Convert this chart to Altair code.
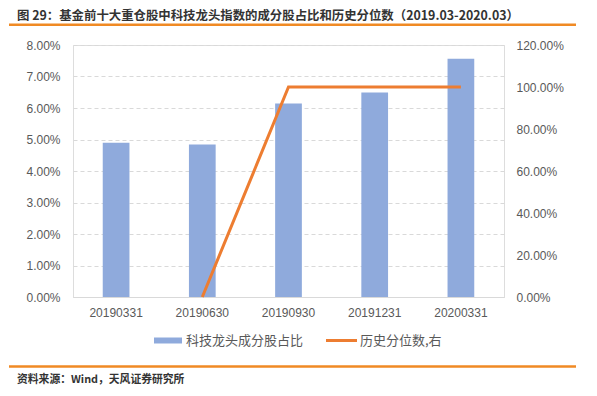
import altair as alt
import pandas as pd

dates = ["20190331", "20190630", "20190930", "20191231", "20200331"]
share = [0.0490, 0.0484, 0.0614, 0.0649, 0.0756]
pctile = [None, 0.0, 1.0, 1.0, 1.0]

title_text = "图 29：基金前十大重仓股中科技龙头指数的成分股占比和历史分位数（2019.03-2020.03）"
source_text = "资料来源：Wind，天风证券研究所"
legend_bar = "科技龙头成分股占比"
legend_line = "历史分位数,右"

df = pd.DataFrame({"date": dates, "share": share, "pct": pctile})

FONT = "Noto Sans CJK SC"
LBL = "Liberation Sans"

xenc = alt.X(
    "date:N", sort=None, title=None,
    scale=alt.Scale(paddingInner=0.69, paddingOuter=0.345),
    axis=alt.Axis(labelAngle=0, ticks=False, domainColor="#d9d9d9", domainWidth=1,
                  labelColor="#595959", labelFont=LBL, labelFontSize=12, labelPadding=10),
)

bars = alt.Chart(df).mark_bar(color="#8FAADC").encode(
    x=xenc,
    y=alt.Y("share:Q", title=None,
            scale=alt.Scale(domain=[0, 0.08], nice=False),
            axis=alt.Axis(values=[0, 0.01, 0.02, 0.03, 0.04, 0.05, 0.06, 0.07, 0.08],
                          format=".2%", domain=False, ticks=False, grid=True,
                          gridColor="#d9d9d9", gridDash=[4, 3], gridWidth=1,
                          labelColor="#595959", labelFont=LBL, labelFontSize=12,
                          labelPadding=13)),
)

line = alt.Chart(df).mark_line(color="#ED7D31", strokeWidth=3).encode(
    x=xenc,
    y=alt.Y("pct:Q", title=None,
            scale=alt.Scale(domain=[0, 1.2], nice=False),
            axis=alt.Axis(orient="right", values=[0, 0.2, 0.4, 0.6, 0.8, 1.0, 1.2],
                          format=".2%", domain=False, ticks=False, grid=False,
                          labelColor="#595959", labelFont=LBL, labelFontSize=12,
                          labelPadding=12)),
)

one = pd.DataFrame({"a": [0]})

title = alt.Chart(one).mark_text(text=title_text, font=FONT, fontSize=12.4, fontWeight="bold",
                                 color="#333333", align="left", baseline="middle").encode(
    x=alt.value(-56), y=alt.value(-29))
title_rule = alt.Chart(one).mark_rule(color="#F08A24", strokeWidth=2.5).encode(
    x=alt.value(-64), x2=alt.value(503), y=alt.value(-20.2))
foot_rule = alt.Chart(one).mark_rule(color="#F08A24", strokeWidth=2.5).encode(
    x=alt.value(-64), x2=alt.value(503), y=alt.value(321.5))
source = alt.Chart(one).mark_text(text=source_text, font=FONT, fontSize=10.8, fontWeight="bold",
                                  color="#333333", align="left", baseline="middle").encode(
    x=alt.value(-56), y=alt.value(334.5))

leg_rect = alt.Chart(one).mark_rect(color="#8FAADC").encode(
    x=alt.value(81), x2=alt.value(109), y=alt.value(292.5), y2=alt.value(298.5))
leg_text1 = alt.Chart(one).mark_text(text=legend_bar, font=FONT, fontSize=13, color="#595959",
                                     align="left", baseline="middle").encode(
    x=alt.value(113), y=alt.value(295.5))
leg_line = alt.Chart(one).mark_rule(color="#ED7D31", strokeWidth=3).encode(
    x=alt.value(253), x2=alt.value(284), y=alt.value(295.5))
leg_text2 = alt.Chart(one).mark_text(text=legend_line, font=FONT, fontSize=13, color="#595959",
                                     align="left", baseline="middle").encode(
    x=alt.value(287), y=alt.value(295.5))

chart = alt.layer(
    bars, line, title, title_rule, foot_rule, source, leg_rect, leg_text1, leg_line, leg_text2
).resolve_scale(y="independent").properties(
    width=431, height=252,
    autosize=alt.AutoSizeParams(type="none"),
    padding={"left": 65, "top": 37, "right": 85, "bottom": 90},
).configure_view(stroke=None).configure(background="white")

chart.save("out.html", embed_options={"renderer": "svg", "actions": False})
